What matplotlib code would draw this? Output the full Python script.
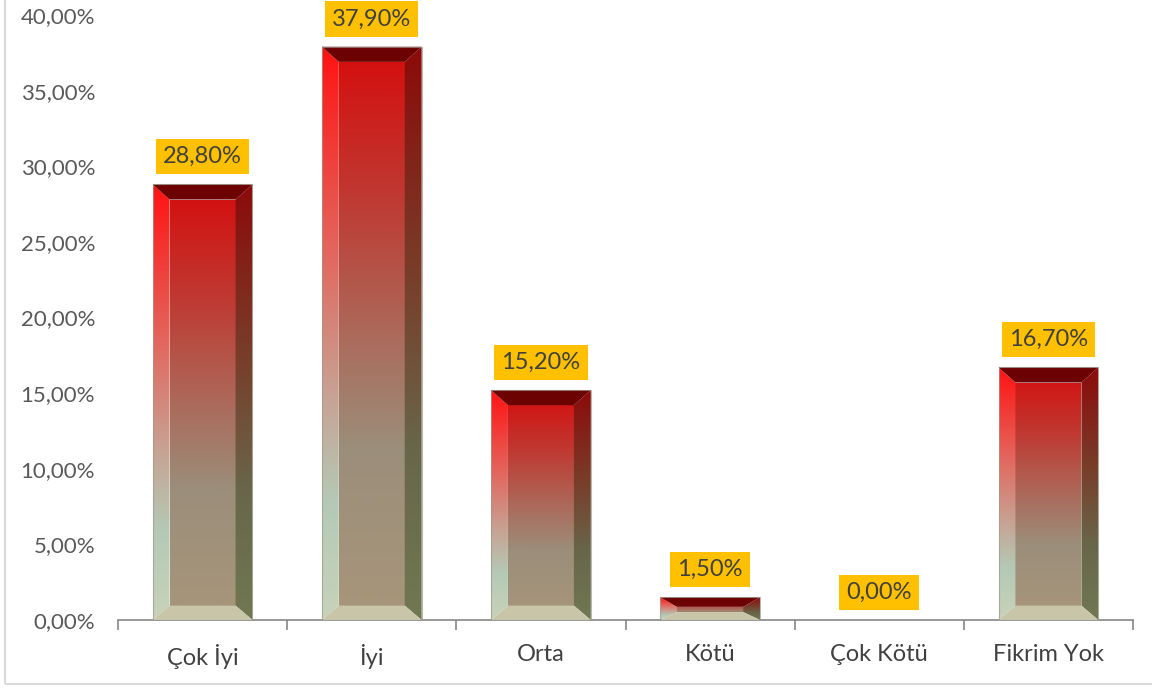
import numpy as np
import matplotlib.pyplot as plt
from matplotlib.patches import Polygon, Rectangle
from matplotlib.colors import LinearSegmentedColormap

plt.rcParams['font.family'] = ['Lato', 'DejaVu Sans']

# Survey answers and their shares (%)
categories = ['Çok İyi', 'İyi', 'Orta', 'Kötü', 'Çok Kötü', 'Fikrim Yok']
values = [28.8, 37.9, 15.2, 1.5, 0.0, 16.7]
yticks = [0, 5, 10, 15, 20, 25, 30, 35, 40]


def fmt(v):
    return f'{v:.2f}%'.replace('.', ',')


def rgb(*c):
    return tuple(x / 255 for x in c)


# gradients run from bottom (0) to top (1) of each bar
face_cm = LinearSegmentedColormap.from_list('face', [
    (0.0, rgb(168, 150, 122)), (0.3, rgb(155, 142, 122)), (0.5, rgb(172, 105, 90)),
    (0.75, rgb(192, 55, 48)), (1.0, rgb(214, 12, 12))])
left_cm = LinearSegmentedColormap.from_list('left', [
    (0.0, rgb(200, 210, 185)), (0.2, rgb(180, 202, 182)), (0.4, rgb(200, 160, 145)),
    (0.65, rgb(228, 100, 92)), (1.0, rgb(255, 18, 18))])
right_cm = LinearSegmentedColormap.from_list('right', [
    (0.0, rgb(112, 120, 82)), (0.3, rgb(104, 102, 74)), (0.6, rgb(120, 62, 42)),
    (1.0, rgb(140, 10, 10))])

fig = plt.figure(figsize=(11.52, 6.88), dpi=100)
fig.patches.append(Rectangle((5 / 1152, 4 / 688), 1.2, 1.2, transform=fig.transFigure,
                             fill=False, edgecolor='#d9d9d9', lw=1.5))
ax = fig.add_axes([118 / 1152, 1 - 620 / 688, 1015 / 1152, 605 / 688])
ax.set_xlim(-0.5, len(categories) - 0.5)
ax.set_ylim(0, 40)

w = 0.59
bx = 0.1
grad = np.linspace(0, 1, 256)[::-1].reshape(-1, 1)


def shaded(poly, cmap, x0, x1, top):
    patch = Polygon(poly, closed=True, facecolor='none', edgecolor='none')
    ax.add_patch(patch)
    im = ax.imshow(grad, cmap=cmap, extent=(x0, x1, 0, top), aspect='auto',
                   interpolation='bilinear', zorder=2)
    im.set_clip_path(patch)


for i, v in enumerate(values):
    if v > 0:
        x0, x1 = i - w / 2, i + w / 2
        bt = min(1.0, v * 0.42)
        bb = min(0.95, v * 0.35)
        shaded([(x0 + bx, bb), (x1 - bx, bb), (x1 - bx, v - bt), (x0 + bx, v - bt)],
               face_cm, x0, x1, v)
        shaded([(x0, 0), (x0 + bx, bb), (x0 + bx, v - bt), (x0, v)], left_cm, x0, x1, v)
        shaded([(x1, 0), (x1 - bx, bb), (x1 - bx, v - bt), (x1, v)], right_cm, x0, x1, v)
        ax.add_patch(Polygon([(x0, v), (x1, v), (x1 - bx, v - bt), (x0 + bx, v - bt)],
                             facecolor='#6c0202', edgecolor='none', zorder=3))
        ax.add_patch(Polygon([(x0, 0), (x1, 0), (x1 - bx, bb), (x0 + bx, bb)],
                             facecolor='#c9c5a9', edgecolor='none', zorder=3))
        ax.add_patch(Rectangle((x0, 0), w, v, fill=False, edgecolor='#9a9a90',
                               lw=0.8, alpha=0.7, zorder=4))
    ax.annotate(fmt(v), (i, v), xytext=(0, 20), textcoords='offset points',
                ha='center', va='center', fontsize=17, color='#404040', zorder=5,
                bbox=dict(boxstyle='square,pad=0.3', facecolor='#ffc000',
                          edgecolor='none'))

for s in ['top', 'right', 'left']:
    ax.spines[s].set_visible(False)
ax.spines['bottom'].set_color('#868686')
ax.spines['bottom'].set_linewidth(1.2)

ax.set_yticks(yticks)
ax.set_yticklabels([fmt(t) for t in yticks], fontsize=16, color='#595959')
ax.tick_params(axis='y', length=0, pad=16.5)

ax.set_xticks(range(len(categories)))
ax.set_xticklabels(categories, fontsize=17, color='#404040')
ax.tick_params(axis='x', which='major', length=0, pad=17)
ax.set_xticks(np.arange(-0.5, len(categories)), minor=True)
ax.tick_params(axis='x', which='minor', length=7, color='#868686', width=1.2)

fig.savefig('out.png', dpi=100)
